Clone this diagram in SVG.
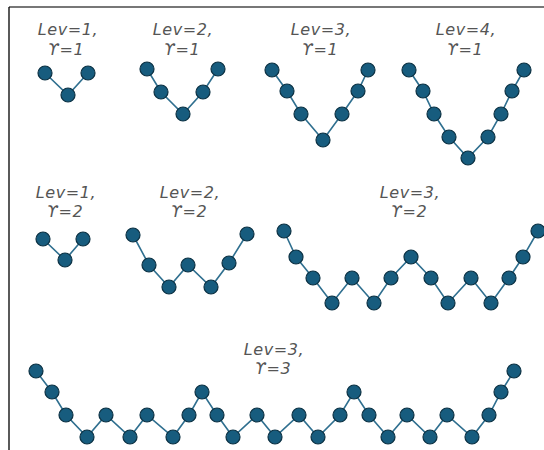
<svg xmlns="http://www.w3.org/2000/svg" width="544" height="450" viewBox="0 0 544 450">
<style>
.bg{fill:#fff}
.frame-top{stroke:#777;stroke-width:2}
.frame-left{stroke:#000;stroke-width:1.3}
.lbl{font-family:"DejaVu Sans",sans-serif;font-style:italic;font-size:16px;letter-spacing:0.6px;fill:#555;text-anchor:middle}
.e{fill:none;stroke:#2f6f8f;stroke-width:1.6}
.n circle{fill:#175c7e;stroke:#0c3143;stroke-width:1.2}
</style>
<rect class="bg" x="0" y="0" width="544" height="450"/>
<line class="frame-top" x1="9" y1="7" x2="544" y2="7"/>
<line class="frame-left" x1="9" y1="7" x2="9" y2="450"/>
<g id="labels">
<text class="lbl" x="68" y="35">Lev=1,</text><text class="lbl" x="66" y="55">ϒ=1</text>
<text class="lbl" x="183" y="35">Lev=2,</text><text class="lbl" x="182" y="55">ϒ=1</text>
<text class="lbl" x="321" y="35">Lev=3,</text><text class="lbl" x="320" y="55">ϒ=1</text>
<text class="lbl" x="466" y="35">Lev=4,</text><text class="lbl" x="465" y="55">ϒ=1</text>
<text class="lbl" x="66" y="198">Lev=1,</text><text class="lbl" x="65" y="217">ϒ=2</text>
<text class="lbl" x="190" y="198">Lev=2,</text><text class="lbl" x="189" y="217">ϒ=2</text>
<text class="lbl" x="410" y="198">Lev=3,</text><text class="lbl" x="409" y="217">ϒ=2</text>
<text class="lbl" x="274" y="355">Lev=3,</text><text class="lbl" x="273" y="374">ϒ=3</text>
</g>
<g id="connectors">
<polyline class="e" points="45,73 68,95 88,73"/>
<polyline class="e" points="147,69 161,92 183,114 203,92 218,69"/>
<polyline class="e" points="272,70 287,91 301,114 323,140 342,114 358,91 368,70"/>
<polyline class="e" points="409,70 423,91 434,114 449,137 468,158 488,137 501,114 512,91 524,70"/>
<polyline class="e" points="43,239 65,260 83,239"/>
<polyline class="e" points="133,235 149,265 169,287 188,265 211,287 229,263 247,234"/>
<polyline class="e" points="284,231 296,257 313,278 332,303 352,278 374,303 391,278 411,257 431,278 448,303 471,278 491,303 509,278 523,257 538,231"/>
<polyline class="e" points="36,371 52,392 66,415 87,437 106,415 130,437 147,415 173,437 189,415 202,392 217,415 233,437 257,415 275,437 299,415 318,437 340,415 354,392 369,415 388,437 407,415 430,437 447,415 472,437 489,415 501,392 514,371"/>
</g>
<g id="nodes">
<g id="p1n1" class="n"><circle cx="45" cy="73" r="7"/></g>
<g id="p1n2" class="n"><circle cx="68" cy="95" r="7"/></g>
<g id="p1n3" class="n"><circle cx="88" cy="73" r="7"/></g>
<g id="p2n1" class="n"><circle cx="147" cy="69" r="7"/></g>
<g id="p2n2" class="n"><circle cx="161" cy="92" r="7"/></g>
<g id="p2n3" class="n"><circle cx="183" cy="114" r="7"/></g>
<g id="p2n4" class="n"><circle cx="203" cy="92" r="7"/></g>
<g id="p2n5" class="n"><circle cx="218" cy="69" r="7"/></g>
<g id="p3n1" class="n"><circle cx="272" cy="70" r="7"/></g>
<g id="p3n2" class="n"><circle cx="287" cy="91" r="7"/></g>
<g id="p3n3" class="n"><circle cx="301" cy="114" r="7"/></g>
<g id="p3n4" class="n"><circle cx="323" cy="140" r="7"/></g>
<g id="p3n5" class="n"><circle cx="342" cy="114" r="7"/></g>
<g id="p3n6" class="n"><circle cx="358" cy="91" r="7"/></g>
<g id="p3n7" class="n"><circle cx="368" cy="70" r="7"/></g>
<g id="p4n1" class="n"><circle cx="409" cy="70" r="7"/></g>
<g id="p4n2" class="n"><circle cx="423" cy="91" r="7"/></g>
<g id="p4n3" class="n"><circle cx="434" cy="114" r="7"/></g>
<g id="p4n4" class="n"><circle cx="449" cy="137" r="7"/></g>
<g id="p4n5" class="n"><circle cx="468" cy="158" r="7"/></g>
<g id="p4n6" class="n"><circle cx="488" cy="137" r="7"/></g>
<g id="p4n7" class="n"><circle cx="501" cy="114" r="7"/></g>
<g id="p4n8" class="n"><circle cx="512" cy="91" r="7"/></g>
<g id="p4n9" class="n"><circle cx="524" cy="70" r="7"/></g>
<g id="p5n1" class="n"><circle cx="43" cy="239" r="7"/></g>
<g id="p5n2" class="n"><circle cx="65" cy="260" r="7"/></g>
<g id="p5n3" class="n"><circle cx="83" cy="239" r="7"/></g>
<g id="p6n1" class="n"><circle cx="133" cy="235" r="7"/></g>
<g id="p6n2" class="n"><circle cx="149" cy="265" r="7"/></g>
<g id="p6n3" class="n"><circle cx="169" cy="287" r="7"/></g>
<g id="p6n4" class="n"><circle cx="188" cy="265" r="7"/></g>
<g id="p6n5" class="n"><circle cx="211" cy="287" r="7"/></g>
<g id="p6n6" class="n"><circle cx="229" cy="263" r="7"/></g>
<g id="p6n7" class="n"><circle cx="247" cy="234" r="7"/></g>
<g id="p7n1" class="n"><circle cx="284" cy="231" r="7"/></g>
<g id="p7n2" class="n"><circle cx="296" cy="257" r="7"/></g>
<g id="p7n3" class="n"><circle cx="313" cy="278" r="7"/></g>
<g id="p7n4" class="n"><circle cx="332" cy="303" r="7"/></g>
<g id="p7n5" class="n"><circle cx="352" cy="278" r="7"/></g>
<g id="p7n6" class="n"><circle cx="374" cy="303" r="7"/></g>
<g id="p7n7" class="n"><circle cx="391" cy="278" r="7"/></g>
<g id="p7n8" class="n"><circle cx="411" cy="257" r="7"/></g>
<g id="p7n9" class="n"><circle cx="431" cy="278" r="7"/></g>
<g id="p7n10" class="n"><circle cx="448" cy="303" r="7"/></g>
<g id="p7n11" class="n"><circle cx="471" cy="278" r="7"/></g>
<g id="p7n12" class="n"><circle cx="491" cy="303" r="7"/></g>
<g id="p7n13" class="n"><circle cx="509" cy="278" r="7"/></g>
<g id="p7n14" class="n"><circle cx="523" cy="257" r="7"/></g>
<g id="p7n15" class="n"><circle cx="538" cy="231" r="7"/></g>
<g id="p8n1" class="n"><circle cx="36" cy="371" r="7"/></g>
<g id="p8n2" class="n"><circle cx="52" cy="392" r="7"/></g>
<g id="p8n3" class="n"><circle cx="66" cy="415" r="7"/></g>
<g id="p8n4" class="n"><circle cx="87" cy="437" r="7"/></g>
<g id="p8n5" class="n"><circle cx="106" cy="415" r="7"/></g>
<g id="p8n6" class="n"><circle cx="130" cy="437" r="7"/></g>
<g id="p8n7" class="n"><circle cx="147" cy="415" r="7"/></g>
<g id="p8n8" class="n"><circle cx="173" cy="437" r="7"/></g>
<g id="p8n9" class="n"><circle cx="189" cy="415" r="7"/></g>
<g id="p8n10" class="n"><circle cx="202" cy="392" r="7"/></g>
<g id="p8n11" class="n"><circle cx="217" cy="415" r="7"/></g>
<g id="p8n12" class="n"><circle cx="233" cy="437" r="7"/></g>
<g id="p8n13" class="n"><circle cx="257" cy="415" r="7"/></g>
<g id="p8n14" class="n"><circle cx="275" cy="437" r="7"/></g>
<g id="p8n15" class="n"><circle cx="299" cy="415" r="7"/></g>
<g id="p8n16" class="n"><circle cx="318" cy="437" r="7"/></g>
<g id="p8n17" class="n"><circle cx="340" cy="415" r="7"/></g>
<g id="p8n18" class="n"><circle cx="354" cy="392" r="7"/></g>
<g id="p8n19" class="n"><circle cx="369" cy="415" r="7"/></g>
<g id="p8n20" class="n"><circle cx="388" cy="437" r="7"/></g>
<g id="p8n21" class="n"><circle cx="407" cy="415" r="7"/></g>
<g id="p8n22" class="n"><circle cx="430" cy="437" r="7"/></g>
<g id="p8n23" class="n"><circle cx="447" cy="415" r="7"/></g>
<g id="p8n24" class="n"><circle cx="472" cy="437" r="7"/></g>
<g id="p8n25" class="n"><circle cx="489" cy="415" r="7"/></g>
<g id="p8n26" class="n"><circle cx="501" cy="392" r="7"/></g>
<g id="p8n27" class="n"><circle cx="514" cy="371" r="7"/></g>
</g>
</svg>
